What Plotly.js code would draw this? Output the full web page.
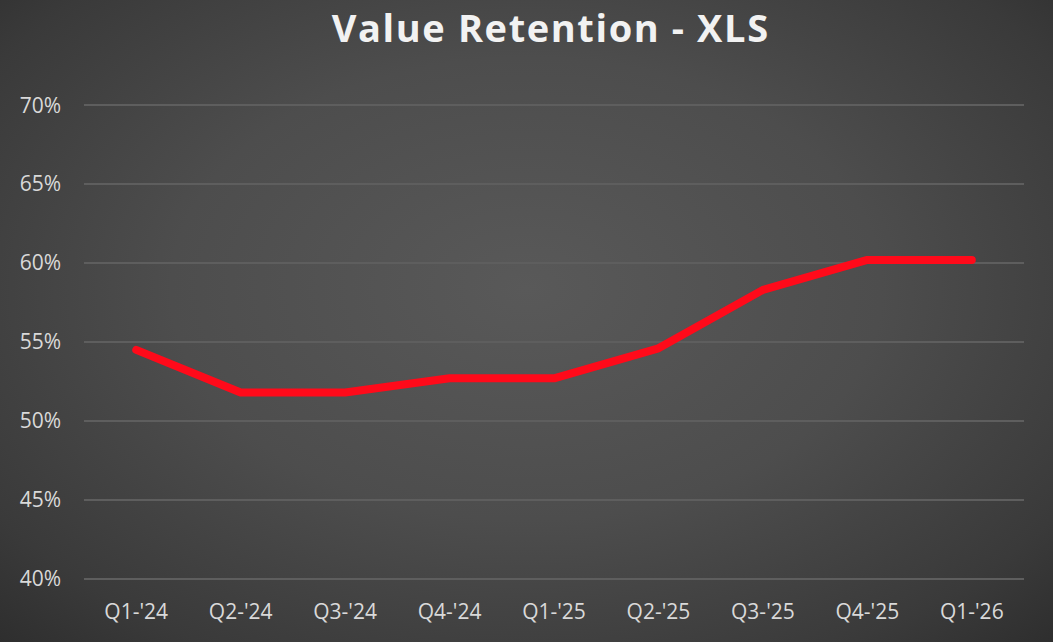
<!DOCTYPE html>
<html>
<head>
<meta charset="utf-8">
<script src="https://cdn.plot.ly/plotly-3.0.1.min.js"></script>
<style>
  html, body { margin: 0; padding: 0; }
  #chart {
    width: 1053px; height: 642px;
    background: radial-gradient(ellipse 75% 80% at 50% 45%, #595959 0%, #4d4d4d 45%, #3a3a3a 80%, #2b2b2b 100%);
  }
  .gtitle { letter-spacing: 1.6px; }
  .js-line { stroke-linecap: round !important; stroke-linejoin: round !important; }
</style>
</head>
<body>
<div id="chart"></div>
<script>
const categories = ["Q1-'24", "Q2-'24", "Q3-'24", "Q4-'24", "Q1-'25", "Q2-'25", "Q3-'25", "Q4-'25", "Q1-'26"];
const retention = [54.5, 51.8, 51.8, 52.7, 52.7, 54.6, 58.3, 60.2, 60.2];
const yTicks = [40, 45, 50, 55, 60, 65, 70];

const trace = {
  x: categories,
  y: retention,
  type: 'scatter',
  mode: 'lines',
  line: { color: '#ff0a1a', width: 8 },
  hoverinfo: 'skip'
};

const layout = {
  width: 1053,
  height: 642,
  paper_bgcolor: 'rgba(0,0,0,0)',
  plot_bgcolor: 'rgba(0,0,0,0)',
  margin: { l: 84, r: 29, t: 102, b: 60, pad: 0 },
  showlegend: false,
  title: {
    text: '<b>Value Retention - XLS</b>',
    font: { family: 'Open Sans, sans-serif', size: 38, color: '#f2f2f2' },
    x: 0.523, xref: 'container', xanchor: 'center',
    y: 1 - 29 / 642, yref: 'container', yanchor: 'middle'
  },
  xaxis: {
    type: 'category',
    showgrid: false,
    zeroline: false,
    showline: false,
    ticks: '',
    ticklabelstandoff: 15,
    tickfont: { family: 'Open Sans, sans-serif', size: 21, color: '#d9d9d9' },
    range: [-0.5, categories.length - 0.5]
  },
  yaxis: {
    range: [39.8, 70.2],
    tickvals: yTicks,
    ticktext: yTicks.map(v => v + '%'),
    showgrid: true,
    gridcolor: '#5e5e5e',
    gridwidth: 1.5,
    zeroline: false,
    showline: false,
    ticks: '',
    ticklabelstandoff: 22,
    tickfont: { family: 'Open Sans, sans-serif', size: 21, color: '#d9d9d9' }
  }
};

Plotly.newPlot('chart', [trace], layout, { displayModeBar: false, staticPlot: true });
</script>
</body>
</html>
